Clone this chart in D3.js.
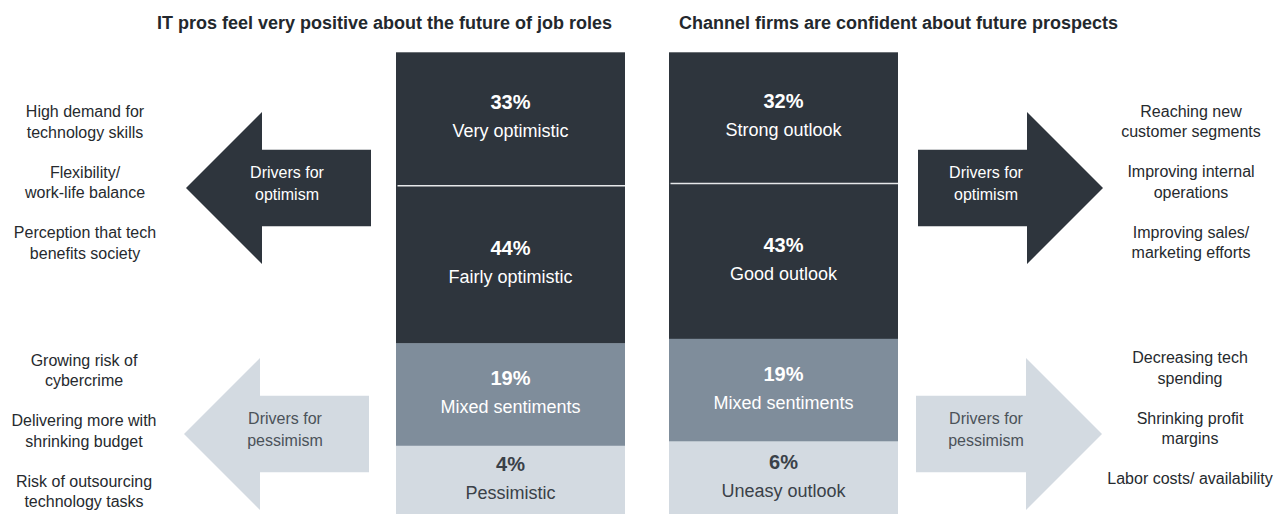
<!DOCTYPE html>
<html>
<head>
<meta charset="utf-8">
<script src="https://cdn.jsdelivr.net/npm/d3@7"></script>
<style>
  html, body { margin: 0; padding: 0; background: #ffffff; }
  svg { display: block; font-family: "Liberation Sans", Arial, Helvetica, sans-serif; }
</style>
</head>
<body>
<svg id="chart" width="1285" height="514"></svg>
<script>
// Panel headings
const panelTitles = [
  "IT pros feel very positive about the future of job roles",
  "Channel firms are confident about future prospects"
];

// Sentiment shares (%) for each stacked column, top to bottom
const itLabels = ["Very optimistic", "Fairly optimistic", "Mixed sentiments", "Pessimistic"];
const itValues = [33, 44, 19, 4];
const channelLabels = ["Strong outlook", "Good outlook", "Mixed sentiments", "Uneasy outlook"];
const channelValues = [32, 43, 19, 6];

// Driver lists next to each arrow (one entry per driver, split into lines)
const itOptimismDrivers = [
  ["High demand for", "technology skills"],
  ["Flexibility/", "work-life balance"],
  ["Perception that tech", "benefits society"]
];
const itPessimismDrivers = [
  ["Growing risk of", "cybercrime"],
  ["Delivering more with", "shrinking budget"],
  ["Risk of outsourcing", "technology tasks"]
];
const channelOptimismDrivers = [
  ["Reaching new", "customer segments"],
  ["Improving internal", "operations"],
  ["Improving sales/", "marketing efforts"]
];
const channelPessimismDrivers = [
  ["Decreasing tech", "spending"],
  ["Shrinking profit", "margins"],
  ["Labor costs/ availability"]
];
const arrowCaptions = [["Drivers for", "optimism"], ["Drivers for", "pessimism"]];

// ---- layout & styling ----
const W = 1285, H = 514;
const barTop = 52.3;
const DARK = "#2e353d", MID = "#7f8d9b", LIGHT = "#d3dae1";
const segFill = [DARK, DARK, MID, LIGHT];
const segText = ["#ffffff", "#ffffff", "#ffffff", "#3a4148"];
const sideTextColor = "#262a2e";

const svg = d3.select("#chart");

const columns = [
  { key: "it", title: panelTitles[0], labels: itLabels, values: itValues, titleX: 157 },
  { key: "channel", title: panelTitles[1], labels: channelLabels, values: channelValues, titleX: 679 }
];

// Horizontal placement of the two columns
const x = d3.scaleBand()
  .domain(columns.map(c => c.key))
  .range([396, 898])
  .paddingInner(0.1612)
  .paddingOuter(0);

// Segment height: a fixed base plus a share proportional to the value
const hScale = d3.scaleLinear().domain([0, 100]).range([60.75, 280.75]);

// Titles
svg.selectAll("text.title")
  .data(columns)
  .join("text")
  .attr("class", "title")
  .attr("x", d => d.titleX)
  .attr("y", 29)
  .attr("font-size", 18)
  .attr("font-weight", "bold")
  .attr("fill", "#23282d")
  .text(d => d.title);

// Stacked columns
columns.forEach(col => {
  let y0 = barTop;
  const segs = col.values.map((v, i) => {
    const h = hScale(v);
    const s = { value: v, label: col.labels[i], i, y: y0, h };
    y0 += h;
    return s;
  });

  const g = svg.append("g").attr("class", "column-" + col.key);
  const bx = x(col.key), bw = x.bandwidth();

  g.selectAll("rect")
    .data(segs)
    .join("rect")
    .attr("x", bx)
    .attr("y", d => d.y)
    .attr("width", bw)
    .attr("height", d => d.h + 0.5)
    .attr("fill", d => segFill[d.i]);

  // Thin divider between the two dark segments
  g.append("line")
    .attr("x1", bx + 1.5)
    .attr("x2", bx + bw)
    .attr("y1", segs[1].y)
    .attr("y2", segs[1].y)
    .attr("stroke", "#e6e8ea")
    .attr("stroke-width", 1.5);

  const lab = g.selectAll("g.seg-label")
    .data(segs)
    .join("g")
    .attr("class", "seg-label")
    .attr("transform", d => `translate(${bx + bw / 2},${d.y + d.h / 2})`);

  lab.append("text")
    .attr("text-anchor", "middle")
    .attr("y", -9.5)
    .attr("font-size", 20)
    .attr("font-weight", "bold")
    .attr("fill", d => segText[d.i])
    .text(d => d.value + "%");

  lab.append("text")
    .attr("text-anchor", "middle")
    .attr("y", 18.5)
    .attr("font-size", 18)
    .attr("fill", d => segText[d.i])
    .text(d => d.label);
});

// Block arrows: tip/tail are x positions, cy the vertical centre
const headLen = 76, headHalf = 76, bodyHalf = 38.3;
function arrowPath(tip, tail, cy) {
  const dir = tip < tail ? 1 : -1;   // 1 = pointing left
  const hb = tip + dir * headLen;
  return d3.line()([
    [tip, cy],
    [hb, cy - headHalf],
    [hb, cy - bodyHalf],
    [tail, cy - bodyHalf],
    [tail, cy + bodyHalf],
    [hb, cy + bodyHalf],
    [hb, cy + headHalf],
    [tip, cy]
  ]) + "Z";
}

const arrows = [
  { tip: 186, tail: 371, cy: 188, fill: DARK, text: "#ffffff", caption: arrowCaptions[0], tx: 287 },
  { tip: 184, tail: 369, cy: 434, fill: LIGHT, text: "#4b5259", caption: arrowCaptions[1], tx: 285 },
  { tip: 1103, tail: 918, cy: 188, fill: DARK, text: "#ffffff", caption: arrowCaptions[0], tx: 986 },
  { tip: 1102, tail: 916, cy: 434, fill: LIGHT, text: "#4b5259", caption: arrowCaptions[1], tx: 986 }
];

const ag = svg.selectAll("g.arrow")
  .data(arrows)
  .join("g")
  .attr("class", "arrow");

ag.append("path")
  .attr("d", d => arrowPath(d.tip, d.tail, d.cy))
  .attr("fill", d => d.fill);

ag.each(function (d) {
  d3.select(this).selectAll("text")
    .data(d.caption)
    .join("text")
    .attr("x", d.tx)
    .attr("y", (t, i) => d.cy - 10 + i * 22)
    .attr("text-anchor", "middle")
    .attr("font-size", 16)
    .attr("fill", d.text)
    .text(t => t);
});

// Driver lists beside the arrows
const driverBlocks = [
  { items: itOptimismDrivers, cx: 85, y: 117 },
  { items: itPessimismDrivers, cx: 84, y: 365.5 },
  { items: channelOptimismDrivers, cx: 1191, y: 116.7 },
  { items: channelPessimismDrivers, cx: 1190, y: 363 }
];
const groupStep = 60.5, lineStep = 20.5;

driverBlocks.forEach(b => {
  const g = svg.append("g").attr("class", "drivers");
  b.items.forEach((lines, gi) => {
    g.selectAll(null)
      .data(lines)
      .join("text")
      .attr("x", b.cx)
      .attr("y", (t, li) => b.y + gi * groupStep + li * lineStep)
      .attr("text-anchor", "middle")
      .attr("font-size", 16)
      .attr("fill", sideTextColor)
      .text(t => t);
  });
});
</script>
</body>
</html>
